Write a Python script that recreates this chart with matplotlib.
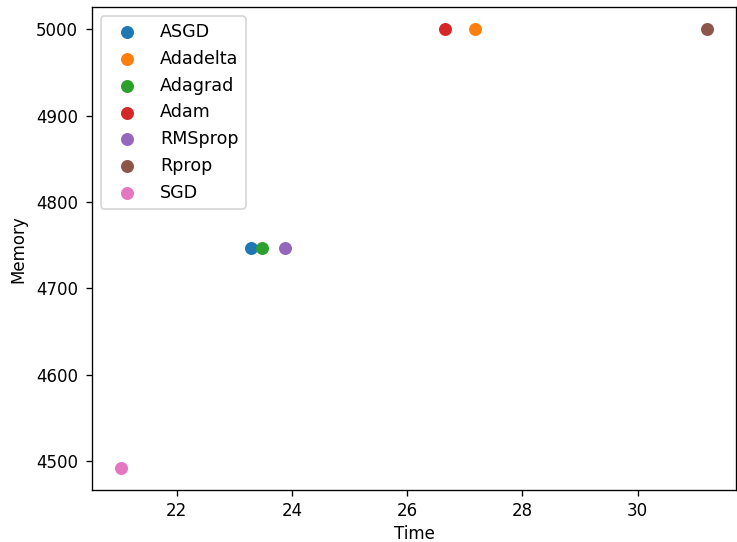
import matplotlib
matplotlib.use("Agg")
import matplotlib.pyplot as plt

optimizers = ["ASGD", "Adadelta", "Adagrad", "Adam", "RMSprop", "Rprop", "SGD"]
times = [23.29, 27.17, 23.48, 26.66, 23.88, 31.20, 21.04]
memory = [4747, 5000, 4747, 5000, 4747, 5000, 4492]
colors = ["#1f77b4", "#ff7f0e", "#2ca02c", "#d62728", "#9467bd", "#8c564b", "#e377c2"]

DPI = 120
fig = plt.figure(figsize=(737 / DPI, 542 / DPI), dpi=DPI)
ax = fig.add_axes([92 / 737, 1 - 490 / 542, (736 - 92) / 737, (490 - 7.3) / 542])

for name, t, m, c in zip(optimizers, times, memory, colors):
    ax.scatter(t, m, s=46, color=c, label=name)

ax.set_xlabel("Time", labelpad=3)
ax.set_ylabel("Memory", labelpad=5)
ax.set_xticks([22, 24, 26, 28, 30])
ax.set_yticks([4500, 4600, 4700, 4800, 4900, 5000])
ax.tick_params(axis="y", pad=5)
ax.legend(loc="upper left", fontsize=10.5, handlelength=2.24,
          handletextpad=0.75, labelspacing=0.5)

fig.savefig("out.png", dpi=DPI)
